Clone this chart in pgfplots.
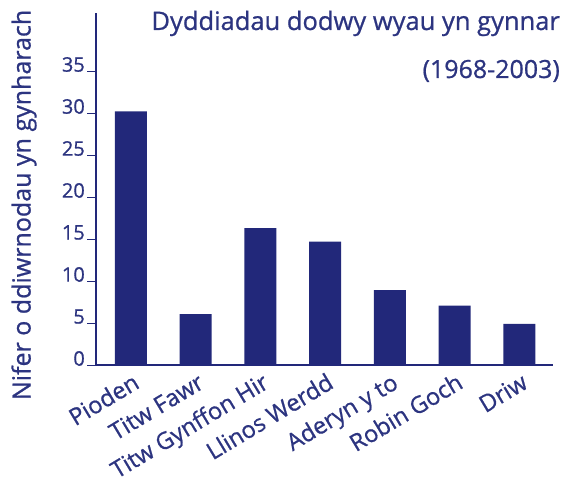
\documentclass[border=0pt]{standalone}
\usepackage{pgfplots}
\pgfplotsset{compat=1.18}
\usepackage{fontspec}
\setmainfont{Open Sans}[BoldFont={Open Sans},BoldFeatures={FakeBold=0.8}]
\definecolor{barcol}{RGB}{34,40,122}
\definecolor{txtcol}{RGB}{44,52,128}
\begin{document}
\begin{tikzpicture}
\useasboundingbox (0pt,0pt) rectangle (562pt,486pt);
\begin{axis}[
  at={(96pt,121pt)}, anchor=south west,
  scale only axis, width=457pt, height=352pt,
  xmin=-0.54, xmax=6.52, ymin=0, ymax=41.9,
  axis lines=left,
  axis line style={draw=barcol, line width=1.2pt, -},
  ytick={0,5,10,15,20,25,30,35},
  xtick={0,1,2,3,4,5,6},
  xticklabels={Pioden,Titw Fawr,Titw Gynffon Hir,Llinos Werdd,Aderyn y to,Robin Goch,Driw},
  tick align=inside,
  major tick length=9pt,
  y tick style={draw=barcol, line width=0.8pt, xshift=-9pt},
  x tick style={draw=none},
  /pgf/number format/assume math mode=true,
  yticklabel style={font=\bfseries\fontsize{20}{22}\selectfont, text=txtcol, xshift=-10pt, yshift=6.5pt, inner sep=1pt},
  xticklabel style={font=\bfseries\fontsize{23.5}{26}\selectfont, text=txtcol, xshift=10pt, yshift=-22pt, rotate=31, anchor=base east, inner sep=0pt},
  clip=false,
]
\addplot[ybar, bar width=32pt, fill=barcol, draw=none] coordinates {
  (0,30.2) (1,6.07) (2,16.3) (3,14.7) (4,8.9) (5,7.06) (6,4.9)
};
\end{axis}
\node[anchor=base east, text=txtcol, font=\bfseries\fontsize{25.5}{28}\selectfont, inner sep=0pt] at (560pt,456pt) {Dyddiadau dodwy wyau yn gynnar};
\node[anchor=base east, text=txtcol, font=\bfseries\fontsize{25}{28}\selectfont, inner sep=0pt] at (560pt,408pt) {(1968-2003)};
\node[rotate=90, text=txtcol, font=\bfseries\fontsize{25}{28}\selectfont] at (24pt,281pt) {Nifer o ddiwrnodau yn gynharach};
\end{tikzpicture}
\end{document}
